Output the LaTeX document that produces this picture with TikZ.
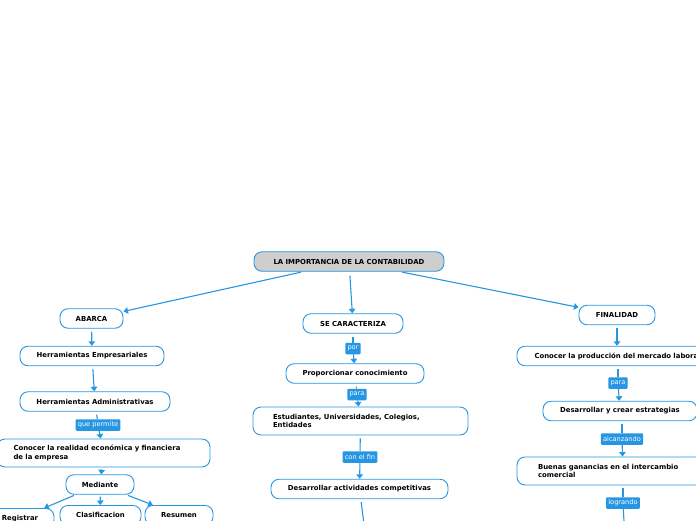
\documentclass[tikz,border=0pt]{standalone}
\usepackage{fontspec}
\setmainfont{DejaVu Sans}
\usetikzlibrary{arrows.meta}

\definecolor{mapblue}{RGB}{38,150,226}
\definecolor{rootgray}{RGB}{206,206,206}

\tikzset{
  topic/.style={draw=mapblue, line width=0.9pt, rounded corners=8pt, fill=white,
    minimum height=19.5pt, inner sep=0pt, font=\fontsize{6.9}{8.6}\selectfont\bfseries},
  widetopic/.style={topic, minimum height=28pt, align=left},
  linklabel/.style={fill=mapblue, text=white, rounded corners=1pt, inner xsep=2.2pt,
    inner ysep=0pt, minimum height=11.5pt, font=\fontsize{6.6}{7}\selectfont},
  link/.style={draw=mapblue, line width=1.1pt},
  linkarrow/.style={link, -{Triangle[width=6.5pt,length=4.5pt]}},
}

\begin{document}
\begin{tikzpicture}[x=1pt,y=-1pt]
    % Fix the page size
    \useasboundingbox (0,0) rectangle (696,520);
    \clip (0,0) rectangle (696,520);

    % Draw the central topic
    \node[topic, fill=rootgray, minimum width=190] (root) at (349,261.5) {LA IMPORTANCIA DE LA CONTABILIDAD};

    % Draw the left branch
    \node[topic, minimum width=63] (abarca) at (91.5,318.5) {ABARCA};
    \node[topic, minimum width=144] (herrEmp) at (92,356) {Herramientas Empresariales};
    \node[topic, minimum width=150] (herrAdm) at (95,401.5) {Herramientas Administrativas};
    \node[linklabel] (quePermite) at (98,425) {que permite};
    \node[widetopic, minimum width=213, text width=180] (conocerReal) at (103.5,453) {Conocer la realidad económica y financiera\\de la empresa};
    \node[topic, minimum width=68] (mediante) at (100,484.5) {Mediante};
    \node[topic, anchor=north, minimum width=68] (registrar) at (20,508) {Registrar};
    \node[topic, anchor=north, minimum width=81] (clasif) at (100.5,505) {Clasificacion};
    \node[topic, anchor=north, minimum width=68] (resumen) at (179,505) {Resumen};

    % Draw the middle branch
    \node[topic, minimum width=100] (seCaract) at (353,323.5) {SE CARACTERIZA};
    \node[linklabel] (por) at (353,348.5) {por};
    \node[topic, minimum width=138] (proporcionar) at (355,373.5) {Proporcionar conocimiento};
    \node[linklabel] (paraA) at (357,394.5) {para};
    \node[widetopic, minimum width=215, text width=175] (estudiantes) at (360.5,421) {Estudiantes, Universidades, Colegios,\\Entidades};
    \node[linklabel] (conElFin) at (360,457) {con el fin};
    \node[topic, minimum width=177] (desarAct) at (359.5,489) {Desarrollar actividades competitivas};
    \coordinate (actNext) at (366,540);

    % Draw the right branch
    \node[topic, minimum width=76] (finalidad) at (617,315) {FINALIDAD};
    \node[topic, minimum width=215, text width=180, align=left] (conocerProd) at (624.5,356) {Conocer la producción del mercado laboral};
    \node[linklabel] (paraB) at (618,383) {para};
    \node[topic, minimum width=154] (desarEstr) at (620,411) {Desarrollar y crear estrategias};
    \node[linklabel] (alcanzando) at (622,439) {alcanzando};
    \node[widetopic, minimum width=212, text width=170] (ganancias) at (623,471) {Buenas ganancias en el intercambio\\comercial};
    \node[linklabel] (logrando) at (623,503) {logrando};
    \coordinate (gananNext) at (625,540);

    % Draw the connectors
    \draw[linkarrow, shorten <=2pt] (root) -- (abarca);
    \draw[linkarrow, shorten <=4pt] (root) -- (seCaract);
    \draw[linkarrow, shorten <=2pt] (root) -- (finalidad);

    \draw[linkarrow, shorten <=3pt] (abarca) -- (herrEmp);
    \draw[linkarrow, shorten <=3pt] (herrEmp) -- (herrAdm);
    \draw[link, shorten <=3pt] (herrAdm) -- (quePermite);
    \draw[linkarrow] (quePermite) -- (conocerReal);
    \draw[linkarrow, shorten <=2pt] (conocerReal) -- (mediante);
    \draw[linkarrow, shorten <=2pt] (mediante) -- (registrar);
    \draw[linkarrow, shorten <=2pt] (mediante) -- (clasif);
    \draw[linkarrow, shorten <=2pt] (mediante) -- (resumen);

    \draw[link, shorten <=3pt] (seCaract) -- (por);
    \draw[linkarrow] (por) -- (proporcionar);
    \draw[link, shorten <=3pt] (proporcionar) -- (paraA);
    \draw[linkarrow] (paraA) -- (estudiantes);
    \draw[link, shorten <=3pt] (estudiantes) -- (conElFin);
    \draw[linkarrow] (conElFin) -- (desarAct);
    \draw[link, shorten <=3pt] (desarAct) -- (actNext);

    \draw[linkarrow, shorten <=3pt] (finalidad) -- (finalidad |- conocerProd.north);
    \draw[link, shorten <=3pt] (conocerProd.south -| paraB) -- (paraB);
    \draw[linkarrow] (paraB) -- (desarEstr);
    \draw[link, shorten <=3pt] (desarEstr.south -| alcanzando) -- (alcanzando);
    \draw[linkarrow] (alcanzando) -- (ganancias);
    \draw[link, shorten <=3pt] (ganancias.south -| logrando) -- (logrando);
    \draw[linkarrow] (logrando) -- (gananNext);
\end{tikzpicture}
\end{document}
